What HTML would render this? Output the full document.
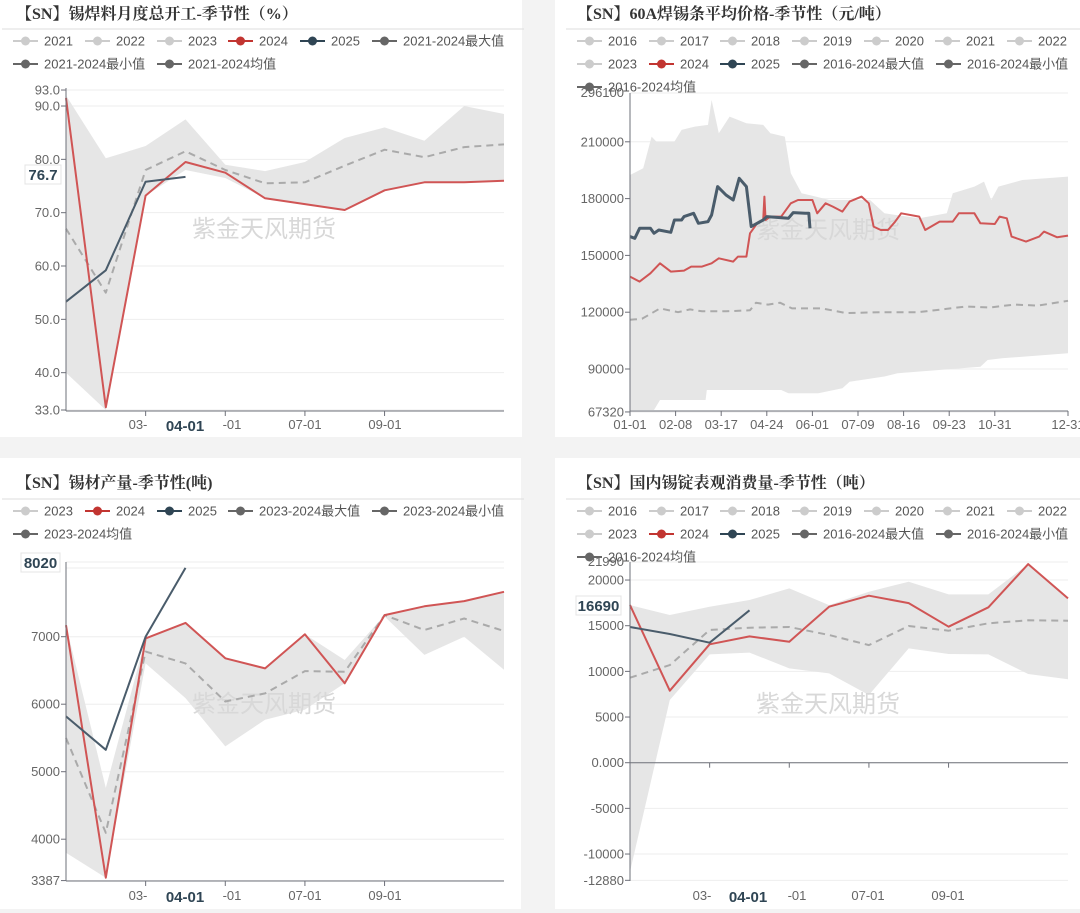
<!DOCTYPE html>
<html><head><meta charset="utf-8">
<style>
html,body{margin:0;padding:0;background:#f3f3f3;}
svg{display:block;font-family:"Liberation Sans","Noto Sans CJK SC",sans-serif;}
.t{font-family:"Liberation Serif","Noto Serif CJK SC",serif;font-weight:bold;font-size:16px;fill:#333;}
.yl{font-size:13px;fill:#666;text-anchor:end;}
.xl{font-size:13px;fill:#666;text-anchor:middle;}
.lg{font-size:13px;fill:#555;}
.wm{font-size:24px;fill:#d8d8d8;text-anchor:middle;}
</style></head><body>
<svg id="root" width="1080" height="913" viewBox="0 0 1080 913" xmlns="http://www.w3.org/2000/svg">
<rect x="0" y="0" width="522" height="437" fill="#fff"/>
<rect x="555" y="0" width="525" height="437" fill="#fff"/>
<rect x="0" y="458" width="521" height="451" fill="#fff"/>
<rect x="555" y="458" width="525" height="451" fill="#fff"/>
<g id="layer"></g>
</svg>
<script>
// ---------- Panel 1: 锡焊料月度总开工 (%) ----------
const p1Months = [1,2,3,4,5,6,7,8,9,10,11,12];
const p1s2024 = [91.5,33.5,73.2,79.5,77.5,72.7,71.6,70.5,74.2,75.7,75.7,76.0];
const p1s2025 = [53.3,59.2,75.8,76.7];
const p1Avg = [67,55,78,81.5,78,75.5,75.7,78.8,81.8,80.4,82.3,82.8];
const p1Max = [92,80.2,82.5,87.5,79,77.8,79.5,84,86,83.5,90,88.5];
const p1Min = [40,33,73.2,78,76.5,72.7,71.6,70.5,74.2,75.7,75.7,76.0];
const p1Ticks = [93,90,80,70,60,50,40,33];

// ---------- Panel 2: 60A焊锡条平均价格 (元/吨) daily ----------
const p2Days24 = [0,8,17,25,34,45,51,60,68,74,86,90,97,100,106,111,112,113,117,126,134,140,152,156,163,169,177,183,193,199,203,209,215,221,226,241,246,258,269,274,287,292,304,308,314,318,330,341,345,356,365];
const p2Vals24 = [138780,136140,140540,145820,141420,141950,144060,144060,145820,148470,146700,149350,149350,161670,166960,168720,181040,168720,170480,170480,177520,179280,179280,172240,177520,175760,173120,178400,181040,177520,165190,163430,163430,167840,172240,170480,163430,167840,167840,172240,172240,166960,166600,170480,169600,159910,157270,159910,162550,159560,160440];
const p2Days25 = [0,4,8,17,20,24,34,37,43,45,53,57,65,68,73,80,86,91,97,101,111,114,132,136,146,149,150];
const p2Vals25 = [159910,159030,164310,164310,161670,163430,162200,168720,168720,170480,172240,166960,167840,171360,186320,181920,179280,190730,186320,165190,168720,170480,169600,172590,172240,172240,164310];
const p2MaxDays = [0,11,18,22,37,43,54,65,68,74,83,97,111,117,129,134,143,155,166,200,212,241,264,269,287,295,301,307,327,365];
const p2MaxVals = [192490,196010,212740,210100,210100,216260,218030,218900,232110,214500,223310,219790,218910,214500,212740,193370,182800,181040,179280,179280,172240,169600,172240,182800,186320,188960,179280,186320,189840,191610];
const p2MinDays = [0,20,25,63,64,126,132,157,177,183,212,223,292,298,310,327,365];
const p2MinVals = [68340,68340,73620,73620,78900,78900,77140,77140,79780,83310,86050,87710,91230,94750,95630,96510,98280];
const p2AvgDays = [0,10,25,40,50,60,80,100,105,115,125,135,160,180,210,240,260,280,300,320,340,365];
const p2AvgVals = [116000,116500,122000,120000,121500,120500,120500,121000,125000,124000,125000,122000,122000,119500,120000,120000,121500,123000,122500,124000,123500,126000];
const p2Ticks = [210000,180000,150000,120000,90000,67320];
const p2XLabels = ["01-01","02-08","03-17","04-24","06-01","07-09","08-16","09-23","10-31","12-31"];
const p2XDays = [0,38,76,114,152,190,228,266,304,365];

// ---------- Panel 3: 锡材产量 (吨) ----------
const p3s2024 = [7170,3430,6975,7205,6680,6530,7035,6310,7320,7450,7527,7665];
const p3s2025 = [5820,5325,7000,8020];
const p3Avg = [5500,4095,6780,6605,6040,6160,6490,6480,7320,7100,7270,7085];
const p3Max = [7170,4760,6975,7205,6680,6530,7035,6655,7320,7450,7527,7665];
const p3Min = [3800,3430,6605,6090,5375,5770,5920,6310,7300,6730,7000,6510];
const p3Ticks = [7000,6000,5000,4000,3387];

// ---------- Panel 4: 国内锡锭表观消费量 (吨) ----------
const p4s2024 = [17260,7880,12960,13830,13250,17080,18290,17480,14890,17010,21750,17990];
const p4s2025 = [14860,14090,13140,16690];
const p4Avg = [9310,10690,14530,14780,14860,13980,12880,14970,14450,15260,15590,15550];
const p4Max = [17260,16170,17080,17810,19090,17260,18720,19820,18430,18430,21750,17990];
const p4Min = [-11940,6860,11860,12050,10330,9780,7410,12520,11900,11860,9710,9130];
const p4Ticks = [20000,15000,10000,5000,0,-5000,-10000,-12880];

const NS="http://www.w3.org/2000/svg";
const layer=document.getElementById('layer');
function mk(tag,attrs,parent,txt){const e=document.createElementNS(NS,tag);for(const k in attrs)e.setAttribute(k,attrs[k]);if(txt!==undefined)e.textContent=txt;(parent||layer).appendChild(e);return e;}

const RED="#d05555", DARK="#4a5c6b", AVG="#aaaaaa", BAND="#e6e6e6";

function pathD(xs,ys){return xs.map((x,i)=>(i?'L':'M')+x.toFixed(1)+','+ys[i].toFixed(1)).join('');}

const mx = i => 66 + i*39.82;
const mx4 = i => 630 + i*39.82;
const y1 = v => 410 - (v-33)*5.333;
const dx2 = d => 630 + d*1.2;
const y2 = v => 369 - (v-90000)/30000*56.8;
const y3 = v => 636.7 - (v-7000)*0.0675;
const y4 = v => 762.7 - v*0.009133;

function title(x,y,txt,name,sx1,sx2,sy){
  const t=mk('text',{x:x,y:y,class:'t'},layer,txt);
  
  
  const l=mk('line',{x1:sx1,x2:sx2,y1:sy,y2:sy,stroke:'#ddd'});
  
  
}
function legendItem(x,y,label,color,textColor){
  const g=mk('g',{});
  
  
  mk('line',{x1:x,x2:x+25,y1:y,y2:y,stroke:color,'stroke-width':2},g);
  mk('circle',{cx:x+12.5,cy:y,r:4.5,fill:color},g);
  mk('text',{x:x+31,y:y+4.5,class:'lg',fill:textColor},g,label);
}
function grid(ticks,yf,x1,x2,fmt,name){
  ticks.forEach(v=>{
    const y=yf(v);
    const gl=mk('line',{x1:x1,x2:x2,y1:y,y2:y,stroke:'#eeeeee'});
    
    
    mk('line',{x1:x1-5,x2:x1,y1:y,y2:y,stroke:'#6e7079'});
    const t=mk('text',{x:x1-6,y:y+4.5,class:'yl'},layer,fmt(v));
    
    
  });
}
function band(xsMax,ysMax,xsMin,ysMin,name){
  let d=pathD(xsMax,ysMax);
  for(let i=xsMin.length-1;i>=0;i--) d+='L'+xsMin[i].toFixed(1)+','+ysMin[i].toFixed(1);
  const p=mk('path',{d:d+'Z',fill:BAND,stroke:'none'});
  
  
}
function line(xs,ys,color,w,dash,name){
  const p=mk('path',{d:pathD(xs,ys),fill:'none',stroke:color,'stroke-width':w,'stroke-linejoin':'round'});
  if(dash)p.setAttribute('stroke-dasharray',dash);
  
  
}
function axes(x1,x2,yTop,yBot,name){
  const a=mk('line',{x1:x1,x2:x1,y1:yTop,y2:yBot,stroke:'#6e7079'});
  
  
}
function xAxisLine(x1,x2,y,name){
  const a=mk('line',{x1:x1,x2:x2,y1:y,y2:y,stroke:'#6e7079'});
  
  
}
function xlabel(x,y,txt,bold,name){
  const t=mk('text',{x:x,y:y,class:'xl'},layer,txt);
  if(bold){t.setAttribute('style','font-size:15px;font-weight:bold;fill:#2f4554');}
  
  
}
function tooltipBox(x,y,w,txt,name){
  const g=mk('g',{});
  
  
  mk('rect',{x:x,y:y,width:w,height:19,fill:'#fff',stroke:'#e4e4e4'},g);
  mk('text',{x:x+w/2,y:y+15,'text-anchor':'middle','font-size':'15','font-weight':'bold',fill:'#2f4554'},g,txt);
}
function watermark(x,y){
  const t=mk('text',{x:x,y:y,class:'wm'},layer,'紫金天风期货');
  
  
}
const mi = a => a.map((_,i)=>i);

// ===== Panel 1 =====
title(16,19,'【SN】锡焊料月度总开工-季节性（%）','chart-title-operating-rate',2,524,29);
[["2021",13,41,"#ccc","#ccc"],["2022",85,41,"#ccc","#ccc"],["2023",157,41,"#ccc","#ccc"],["2024",228,41,"#c23531","#555"],["2025",300,41,"#2f4554","#555"],["2021-2024最大值",372,41,"#666","#555"],["2021-2024最小值",13,64,"#666","#555"],["2021-2024均值",157,64,"#666","#555"]].forEach(a=>legendItem(a[1],a[2],a[0],a[3],a[4]));
grid(p1Ticks,y1,66,504,v=>v.toFixed(1),'p1');
band(mi(p1Max).map(mx),p1Max.map(y1),mi(p1Min).map(mx),p1Min.map(y1),'p1-range-band');
watermark(264,237);
line(mi(p1Avg).map(mx),p1Avg.map(y1),AVG,2,'7,5','p1-average-line');
line(mi(p1s2024).map(mx),p1s2024.map(y1),RED,2,null,'p1-series-2024');
line(mi(p1s2025).map(mx),p1s2025.map(y1),DARK,2,null,'p1-series-2025');
axes(66,504,88,411,'p1');xAxisLine(66,504,411,'p1');
[2,4,6,8].forEach(i=>mk('line',{x1:mx(i),x2:mx(i),y1:411,y2:416,stroke:'#6e7079'}));
xlabel(138,429,'03-',false,'p1-x-label');xlabel(185,431,'04-01',true,'p1-x-hover-label');xlabel(232,429,'-01',false,'p1-x-label');xlabel(305,429,'07-01',false,'p1-x-label');xlabel(385,429,'09-01',false,'p1-x-label');
tooltipBox(25,165,36,'76.7','p1-y-pointer-label');

// ===== Panel 2 =====
title(577,19,'【SN】60A焊锡条平均价格-季节性（元/吨）','chart-title-solder-bar-price',566,1080,29);
[["2016",577,41,"#ccc","#ccc"],["2017",649,41,"#ccc","#ccc"],["2018",720,41,"#ccc","#ccc"],["2019",792,41,"#ccc","#ccc"],["2020",864,41,"#ccc","#ccc"],["2021",935,41,"#ccc","#ccc"],["2022",1007,41,"#ccc","#ccc"],["2023",577,64,"#ccc","#ccc"],["2024",649,64,"#c23531","#555"],["2025",720,64,"#2f4554","#555"],["2016-2024最大值",792,64,"#666","#555"],["2016-2024最小值",936,64,"#666","#555"]].forEach(a=>legendItem(a[1],a[2],a[0],a[3],a[4]));
grid(p2Ticks,y2,630,1068,v=>String(v),'p2');
mk('line',{x1:630,x2:1068,y1:93,y2:93,stroke:'#eeeeee'});
mk('text',{x:624,y:97,class:'yl'},layer,'296100');
legendItem(577,87,'2016-2024均值','#666','#555');
band(p2MaxDays.map(dx2),p2MaxVals.map(y2),p2MinDays.map(dx2),p2MinVals.map(y2),'p2-range-band');
watermark(828,238);
line(p2AvgDays.map(dx2),p2AvgVals.map(y2),AVG,2,'7,5','p2-average-line');
line(p2Days24.map(dx2),p2Vals24.map(y2),RED,2,null,'p2-series-2024');
line(p2Days25.map(dx2),p2Vals25.map(y2),DARK,3,null,'p2-series-2025');
axes(630,1068,93,411,'p2');xAxisLine(630,1068,411,'p2');
p2XDays.forEach((d,i)=>{mk('line',{x1:dx2(d),x2:dx2(d),y1:411,y2:416,stroke:'#6e7079'});xlabel(dx2(d),429,p2XLabels[i],false,'p2-x-label');});

// ===== Panel 3 =====
title(16,488,'【SN】锡材产量-季节性(吨)','chart-title-tin-output',2,524,499);
[["2023",13,511,"#ccc","#ccc"],["2024",85,511,"#c23531","#555"],["2025",157,511,"#2f4554","#555"],["2023-2024最大值",228,511,"#666","#555"],["2023-2024最小值",372,511,"#666","#555"],["2023-2024均值",13,534,"#666","#555"]].forEach(a=>legendItem(a[1],a[2],a[0],a[3],a[4]));
grid(p3Ticks,y3,66,504,v=>String(v),'p3');
mk('line',{x1:66,x2:504,y1:562,y2:562,stroke:'#eeeeee'});
mk('line',{x1:66,x2:504,y1:568,y2:568,stroke:'#eeeeee'});
band(mi(p3Max).map(mx),p3Max.map(y3),mi(p3Min).map(mx),p3Min.map(y3),'p3-range-band');
watermark(264,712);
line(mi(p3Avg).map(mx),p3Avg.map(y3),AVG,2,'7,5','p3-average-line');
line(mi(p3s2024).map(mx),p3s2024.map(y3),RED,2,null,'p3-series-2024');
line(mi(p3s2025).map(mx),p3s2025.map(y3),DARK,2,null,'p3-series-2025');
axes(66,504,562,881,'p3');xAxisLine(66,504,881,'p3');
[2,4,6,8].forEach(i=>mk('line',{x1:mx(i),x2:mx(i),y1:881,y2:886,stroke:'#6e7079'}));
xlabel(138,900,'03-',false,'p3-x-label');xlabel(185,902,'04-01',true,'p3-x-hover-label');xlabel(232,900,'-01',false,'p3-x-label');xlabel(305,900,'07-01',false,'p3-x-label');xlabel(385,900,'09-01',false,'p3-x-label');
tooltipBox(21,553,39,'8020','p3-y-pointer-label');

// ===== Panel 4 =====
title(577,488,'【SN】国内锡锭表观消费量-季节性（吨）','chart-title-tin-ingot-consumption',566,1080,499);
[["2016",577,511,"#ccc","#ccc"],["2017",649,511,"#ccc","#ccc"],["2018",720,511,"#ccc","#ccc"],["2019",792,511,"#ccc","#ccc"],["2020",864,511,"#ccc","#ccc"],["2021",935,511,"#ccc","#ccc"],["2022",1007,511,"#ccc","#ccc"],["2023",577,534,"#ccc","#ccc"],["2024",649,534,"#c23531","#555"],["2025",720,534,"#2f4554","#555"],["2016-2024最大值",792,534,"#666","#555"],["2016-2024最小值",936,534,"#666","#555"]].forEach(a=>legendItem(a[1],a[2],a[0],a[3],a[4]));
grid(p4Ticks,y4,630,1068,v=>v===0?'0.000':String(v),'p4');
mk('line',{x1:630,x2:1068,y1:562,y2:562,stroke:'#eeeeee'});
mk('text',{x:624,y:566,class:'yl'},layer,'21990');
legendItem(577,557,'2016-2024均值','#666','#555');
band(mi(p4Max).map(mx4),p4Max.map(y4),mi(p4Min).map(mx4),p4Min.map(y4),'p4-range-band');
watermark(828,712);
line(mi(p4Avg).map(mx4),p4Avg.map(y4),AVG,2,'7,5','p4-average-line');
line(mi(p4s2024).map(mx4),p4s2024.map(y4),RED,2,null,'p4-series-2024');
line(mi(p4s2025).map(mx4),p4s2025.map(y4),DARK,2,null,'p4-series-2025');
axes(630,1068,562,881,'p4');xAxisLine(630,1068,y4(0),'p4');
[2,4,6,8].forEach(i=>mk('line',{x1:mx4(i),x2:mx4(i),y1:y4(0),y2:y4(0)+5,stroke:'#6e7079'}));
xlabel(702,900,'03-',false,'p4-x-label');xlabel(748,902,'04-01',true,'p4-x-hover-label');xlabel(797,900,'-01',false,'p4-x-label');xlabel(868,900,'07-01',false,'p4-x-label');xlabel(948,900,'09-01',false,'p4-x-label');
tooltipBox(576,596,45,'16690','p4-y-pointer-label');
</script>
</body></html>
